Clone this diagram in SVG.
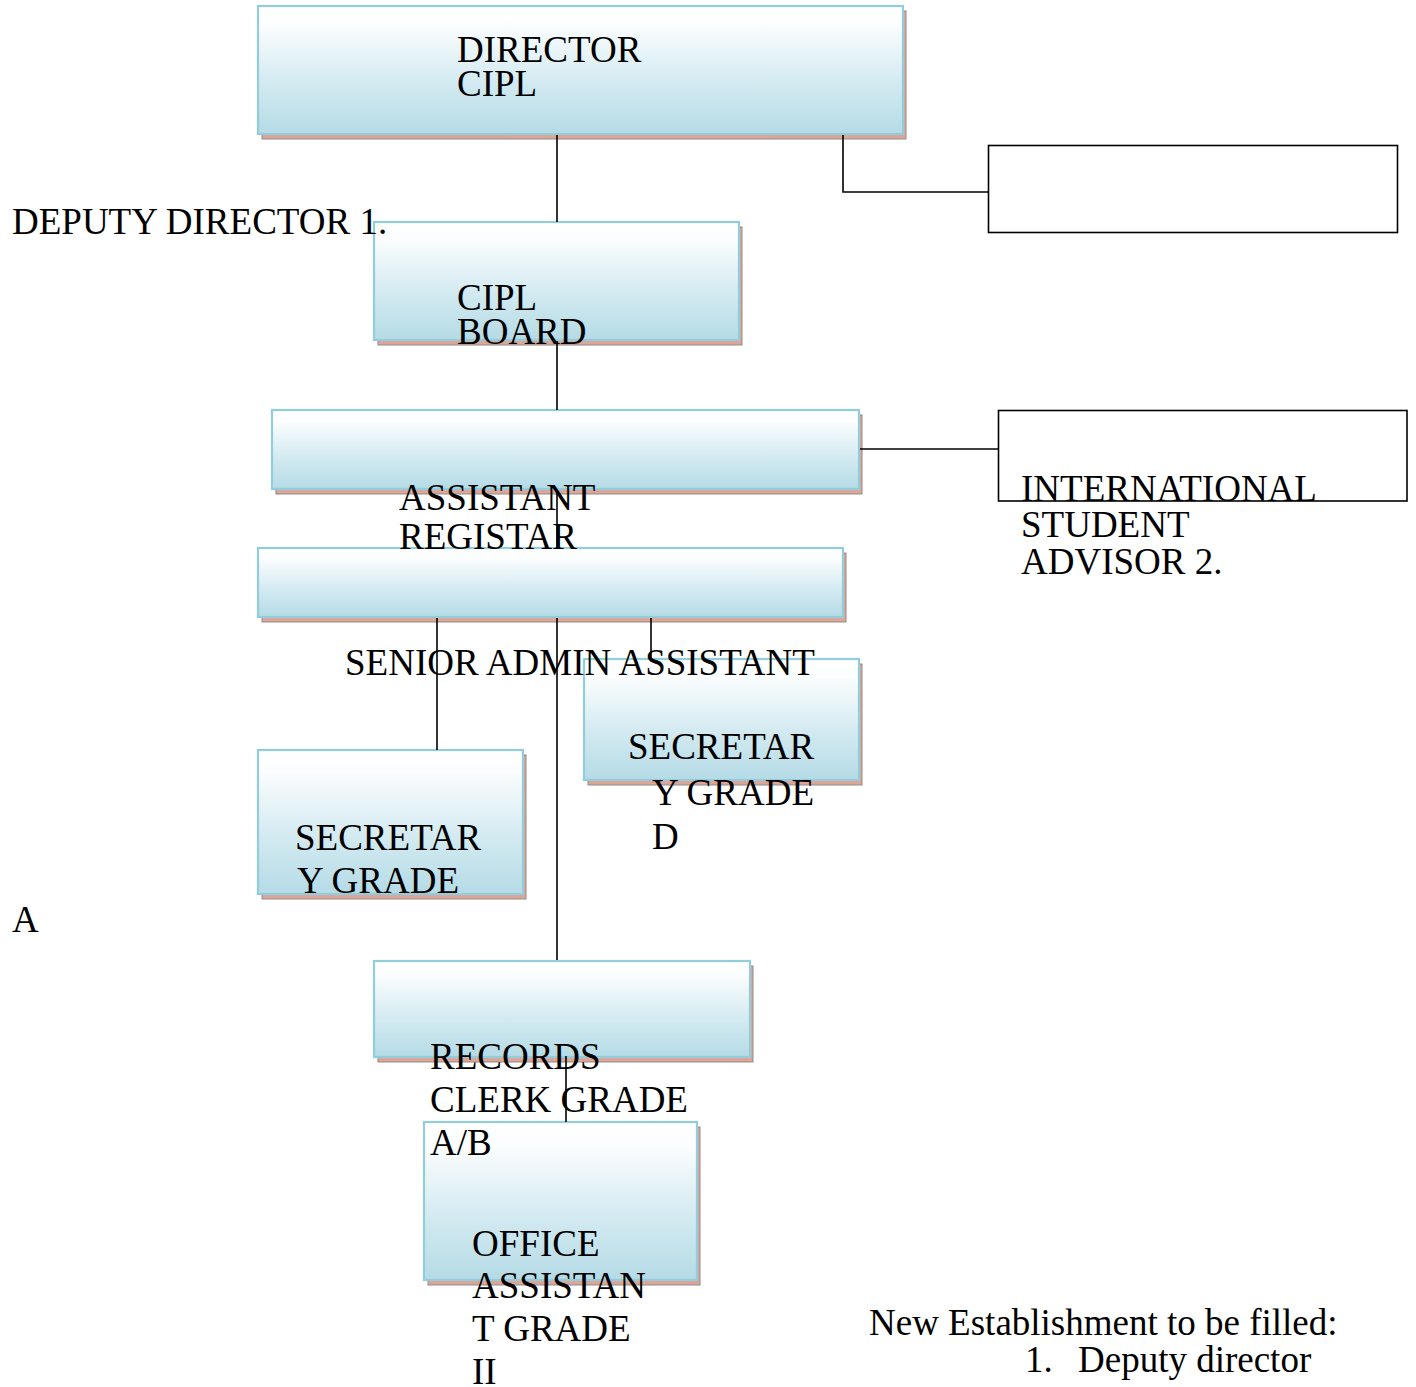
<svg xmlns="http://www.w3.org/2000/svg" width="1416" height="1387" viewBox="0 0 1416 1387">
  <defs>
    <linearGradient id="fillGrad" x1="0" y1="0" x2="0" y2="1">
      <stop offset="0" stop-color="#FFFFFF"/>
      <stop offset="0.15" stop-color="#FBFDFE"/>
      <stop offset="0.6" stop-color="#D3EAF1"/>
      <stop offset="1" stop-color="#B5DBE6"/>
    </linearGradient>
  </defs>
  <style>
    .shadow { fill: #DEA597; stroke: #8C8C8C; stroke-width: 1; }
    .box { fill: url(#fillGrad); stroke: #93CDDC; stroke-width: 2.2; }
    .plain { fill: #FFFFFF; stroke: #000000; stroke-width: 1.6; }
    .conn { fill: none; stroke: #000000; stroke-width: 1.6; }
    text { font-family: "Liberation Serif", "Times New Roman", serif; font-size: 37px; fill: #000000; }
  </style>
  <rect width="1416" height="1387" fill="#FFFFFF"/>

  <g id="node-director">
    <rect class="shadow" x="262" y="11" width="644" height="128"/>
    <rect class="box" x="258" y="6" width="645" height="128"/>
  </g>
  <g id="node-deputy-box">
    <rect class="plain" x="988.5" y="145.5" width="409" height="87"/>
  </g>
  <g id="node-cipl-board">
    <rect class="shadow" x="378" y="227" width="364" height="118"/>
    <rect class="box" x="374" y="222" width="365" height="118"/>
  </g>
  <g id="node-assistant-registar">
    <rect class="shadow" x="276" y="415" width="586" height="79"/>
    <rect class="box" x="272" y="410" width="587" height="79"/>
  </g>
  <g id="node-intl-box">
    <rect class="plain" x="998.5" y="410.5" width="408.5" height="90.5"/>
  </g>
  <g id="node-senior-admin">
    <rect class="shadow" x="262" y="553" width="584" height="69"/>
    <rect class="box" x="258" y="548" width="585" height="69"/>
  </g>
  <g id="node-secretary-d">
    <rect class="shadow" x="588" y="664" width="274" height="121"/>
    <rect class="box" x="584" y="659" width="275" height="121"/>
  </g>
  <g id="node-secretary-a">
    <rect class="shadow" x="262" y="755" width="264" height="144"/>
    <rect class="box" x="258" y="750" width="265" height="144"/>
  </g>
  <g id="node-records">
    <rect class="shadow" x="378" y="966" width="375" height="96"/>
    <rect class="box" x="374" y="961" width="376" height="96"/>
  </g>
  <g id="node-office">
    <rect class="shadow" x="428" y="1127" width="272" height="158"/>
    <rect class="box" x="424" y="1122" width="273" height="158"/>
  </g>

  <g id="labels">
    <text x="457" y="62">DIRECTOR</text>
    <text x="457" y="96">CIPL</text>
    <text x="12" y="234">DEPUTY DIRECTOR 1.</text>
    <text x="457" y="310">CIPL</text>
    <text x="457" y="344">BOARD</text>
    <text x="399" y="510">ASSISTANT</text>
    <text x="399" y="549">REGISTAR</text>
    <text x="1021" y="501">INTERNATIONAL</text>
    <text x="1021" y="537">STUDENT</text>
    <text x="1021" y="574">ADVISOR 2.</text>
    <text x="345" y="675">SENIOR ADMIN ASSISTANT</text>
    <text x="628" y="759">SECRETAR</text>
    <text x="652" y="805">Y GRADE</text>
    <text x="652" y="849">D</text>
    <text x="295" y="850">SECRETAR</text>
    <text x="297" y="893">Y GRADE</text>
    <text x="12" y="932">A</text>
    <text x="430" y="1069">RECORDS</text>
    <text x="430" y="1112">CLERK GRADE</text>
    <text x="430" y="1155">A/B</text>
    <text x="472" y="1256">OFFICE</text>
    <text x="472" y="1298">ASSISTAN</text>
    <text x="472" y="1341">T GRADE</text>
    <text x="472" y="1384">II</text>
    <text x="869" y="1335">New Establishment to be filled:</text>
    <text x="1025" y="1372">1.</text>
    <text x="1078" y="1372">Deputy director</text>
  </g>

  <g id="connectors">
    <line class="conn" x1="557" y1="135" x2="557" y2="222"/>
    <polyline class="conn" points="843,135 843,192 988,192"/>
    <line class="conn" x1="557" y1="341" x2="557" y2="410"/>
    <line class="conn" x1="860" y1="449" x2="998" y2="449"/>
    <line class="conn" x1="557" y1="490" x2="557" y2="548"/>
    <line class="conn" x1="437" y1="618" x2="437" y2="750"/>
    <line class="conn" x1="557" y1="618" x2="557" y2="960"/>
    <line class="conn" x1="651" y1="618" x2="651" y2="659"/>
    <line class="conn" x1="566" y1="1056" x2="566" y2="1122"/>
  </g>
</svg>
